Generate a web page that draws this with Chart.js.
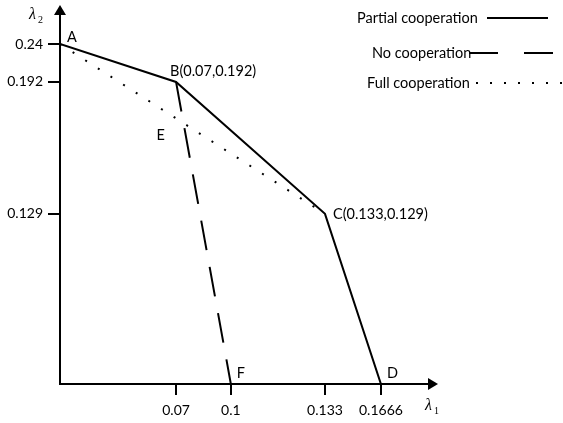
<!DOCTYPE html>
<html>
<head>
<meta charset="utf-8">
<script src="https://cdn.jsdelivr.net/npm/chart.js@4.4.1/dist/chart.umd.min.js"></script>
<style>
  html, body { margin: 0; padding: 0; background: #fff; }
  #wrap { width: 563px; height: 423px; }
</style>
</head>
<body>
<div id="wrap"><canvas id="chart" width="563" height="423"></canvas></div>
<script>
/* ── Data ─────────────────────────────────────────────────── */
const seriesNames = ['Partial cooperation', 'No cooperation', 'Full cooperation'];
const partialX = [0, 0.07, 0.133, 0.1666];     // A, B, C, D
const partialY = [0.24, 0.192, 0.129, 0];
const noCoopX  = [0.07, 0.1];                  // B, F
const noCoopY  = [0.192, 0];
const fullX    = [0, 0.133];                   // A, C
const fullY    = [0.24, 0.129];
const xTicks      = [0.07, 0.1, 0.133, 0.1666];
const xTickLabels = ['0.07', '0.1', '0.133', '0.1666'];
const yTicks      = [0.129, 0.192, 0.24];
const yTickLabels = ['0.129', '0.192', '0.24'];

const FONT = 'Lato';
const toPts = (xs, ys) => xs.map((x, i) => ({ x, y: ys[i] }));

/* ── Schematic (piecewise) axis: value -> fraction of axis ── */
const KNOTS = {
  x: [[0, 0], [0.07, 0.307], [0.1, 0.452], [0.133, 0.701], [0.1666, 0.849], [0.19, 1]],
  y: [[0, 0], [0.129, 0.449], [0.192, 0.797], [0.24, 0.897], [0.27, 1]]
};

class PiecewiseScale extends Chart.LinearScale {
  static id = 'piecewise';
  static defaults = {};
  toDecimal(v) {
    const k = KNOTS[this.id];
    for (let i = 1; i < k.length; i++) {
      if (v <= k[i][0] || i === k.length - 1) {
        const [v0, d0] = k[i - 1], [v1, d1] = k[i];
        return d0 + (v - v0) / (v1 - v0) * (d1 - d0);
      }
    }
    return 0;
  }
  getPixelForValue(value) {
    if (value === null || value === undefined || isNaN(value)) return NaN;
    return this.getPixelForDecimal(this.toDecimal(value));
  }
  getValueForPixel(pixel) {
    const d = this.getDecimalForPixel(pixel);
    const k = KNOTS[this.id];
    for (let i = 1; i < k.length; i++) {
      if (d <= k[i][1] || i === k.length - 1) {
        const [v0, d0] = k[i - 1], [v1, d1] = k[i];
        return v0 + (d - d0) / (d1 - d0) * (v1 - v0);
      }
    }
    return 0;
  }
}
Chart.register(PiecewiseScale);

/* ── Axes, arrows, point labels and legend ─────────────────── */
const decor = {
  id: 'decor',
  beforeDatasetsDraw(chart) {
    const { ctx, chartArea: a } = chart;
    ctx.save();
    ctx.strokeStyle = '#000';
    ctx.fillStyle = '#000';
    ctx.lineWidth = 2;
    ctx.beginPath();
    ctx.moveTo(a.left, a.top + 8);
    ctx.lineTo(a.left, a.bottom);
    ctx.lineTo(a.right - 8, a.bottom);
    ctx.stroke();
    // arrow heads
    ctx.beginPath();
    ctx.moveTo(a.left, a.top);
    ctx.lineTo(a.left - 6, a.top + 10);
    ctx.lineTo(a.left + 6, a.top + 10);
    ctx.closePath();
    ctx.fill();
    ctx.beginPath();
    ctx.moveTo(a.right, a.bottom);
    ctx.lineTo(a.right - 10, a.bottom - 6);
    ctx.lineTo(a.right - 10, a.bottom + 6);
    ctx.closePath();
    ctx.fill();
    ctx.restore();
  },
  afterDraw(chart) {
    const { ctx, scales: { x, y } } = chart;
    const px = v => x.getPixelForValue(v), py = v => y.getPixelForValue(v);
    ctx.save();
    ctx.fillStyle = '#000';
    ctx.textBaseline = 'middle';
    ctx.textAlign = 'left';
    ctx.font = `14.5px ${FONT}`;

    // intersection E of A→C and B→F (pixel space)
    const ax = px(fullX[0]), ay = py(fullY[0]), cx = px(fullX[1]), cy = py(fullY[1]);
    const bx = px(noCoopX[0]), by = py(noCoopY[0]), fx = px(noCoopX[1]), fy = py(noCoopY[1]);
    const den = (ax - cx) * (by - fy) - (ay - cy) * (bx - fx);
    const t = ((ax - bx) * (by - fy) - (ay - by) * (bx - fx)) / den;
    const ex = ax + t * (cx - ax), ey = ay + t * (cy - ay);

    const labels = [
      ['A', px(partialX[0]) + 7, py(partialY[0]) - 7],
      [`B(${partialX[1]},${partialY[1]})`, px(partialX[1]) - 6, py(partialY[1]) - 11],
      [`C(${partialX[2]},${partialY[2]})`, px(partialX[2]) + 8, py(partialY[2])],
      ['D', px(partialX[3]) + 6, py(partialY[3]) - 11],
      ['E', ex - 27, ey + 12],
      ['F', px(noCoopX[1]) + 6, py(noCoopY[1]) - 11]
    ];
    labels.forEach(([s, lx, ly]) => ctx.fillText(s, lx, ly));

    // axis titles
    ctx.font = `italic 16px 'Liberation Serif'`;
    ctx.fillText('λ', 29, 15);
    ctx.fillText('λ', 425, 406);
    ctx.font = `10px 'Liberation Serif'`;
    ctx.fillText('2', 38, 20);
    ctx.fillText('1', 434, 411);

    // legend: text, then line sample
    ctx.font = `14.5px ${FONT}`;
    const leg = [
      { tx: 357, y: 18, x0: 487, x1: 548, dash: [] },
      { tx: 372, y: 53, x0: 469, x1: 554, dash: [29, 26] },
      { tx: 367, y: 83, x0: 476, x1: 562, dash: [2, 12] }
    ];
    leg.forEach((g, i) => {
      ctx.fillText(seriesNames[i], g.tx, g.y);
      ctx.save();
      ctx.lineWidth = 2;
      ctx.strokeStyle = '#000';
      ctx.setLineDash(g.dash);
      ctx.beginPath();
      ctx.moveTo(g.x0, g.y);
      ctx.lineTo(g.x1, g.y);
      ctx.stroke();
      ctx.restore();
    });
    ctx.restore();
  }
};

/* ── Chart ─────────────────────────────────────────────────── */
const tickFont = { family: FONT, size: 14 };

new Chart(document.getElementById('chart'), {
  type: 'line',
  data: {
    datasets: [
      {
        label: seriesNames[2],
        data: toPts(fullX, fullY),
        borderColor: '#000',
        borderWidth: 2,
        borderDash: [2, 13],
        pointRadius: 0,
        order: 3
      },
      {
        label: seriesNames[1],
        data: toPts(noCoopX, noCoopY),
        borderColor: '#000',
        borderWidth: 2,
        borderDash: [30, 17],
        pointRadius: 0,
        order: 2
      },
      {
        label: seriesNames[0],
        data: toPts(partialX, partialY),
        borderColor: '#000',
        borderWidth: 2,
        pointRadius: 0,
        order: 1
      }
    ]
  },
  options: {
    responsive: false,
    animation: false,
    devicePixelRatio: 1,
    layout: { padding: { left: 0, top: 5, right: 125, bottom: 0 } },
    plugins: { legend: { display: false }, tooltip: { enabled: false } },
    scales: {
      x: {
        type: 'piecewise',
        position: 'bottom',
        min: 0, max: 0.19,
        afterBuildTicks: s => { s.ticks = xTicks.map(v => ({ value: v })); },
        afterFit: s => { s.height = 39; s.paddingLeft = 0; s.paddingRight = 0; },
        border: { display: false },
        grid: { drawOnChartArea: false, drawTicks: true, tickLength: 11, color: '#000', lineWidth: 2 },
        ticks: {
          autoSkip: false, maxRotation: 0, padding: 7,
          color: '#000', font: tickFont,
          callback: (v, i) => xTickLabels[i]
        }
      },
      y: {
        type: 'piecewise',
        position: 'left',
        min: 0, max: 0.27,
        afterBuildTicks: s => { s.ticks = yTicks.map(v => ({ value: v })); },
        afterFit: s => { s.width = 60; s.paddingTop = 0; s.paddingBottom = 0; },
        border: { display: false },
        grid: { drawOnChartArea: false, drawTicks: true, tickLength: 12, color: '#000', lineWidth: 2 },
        ticks: {
          autoSkip: false, padding: 5,
          color: '#000', font: tickFont,
          callback: (v, i) => yTickLabels[i]
        }
      }
    }
  },
  plugins: [decor]
});
</script>
</body>
</html>
